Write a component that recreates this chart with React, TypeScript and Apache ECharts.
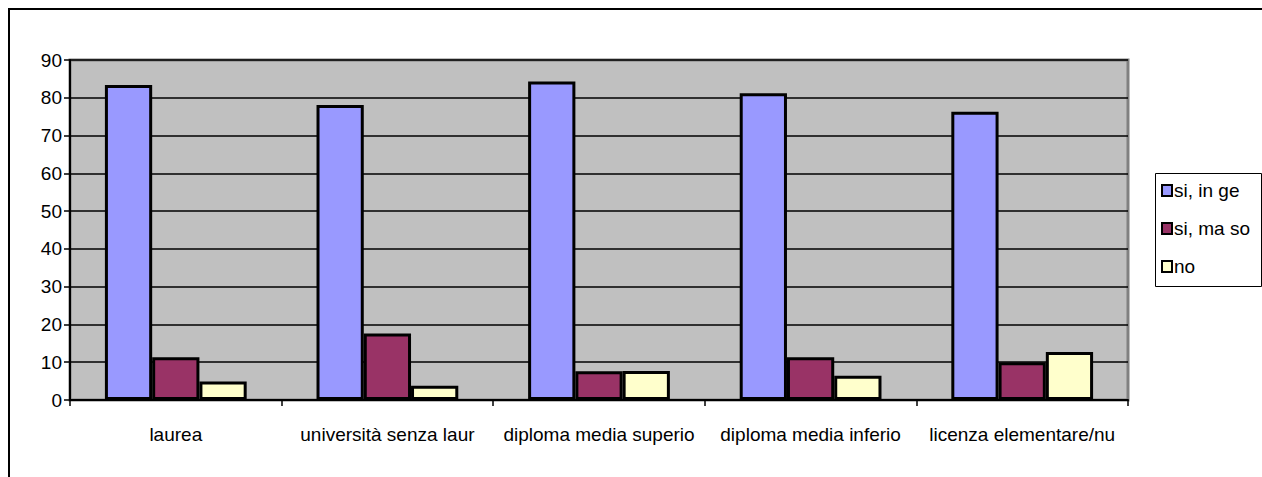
import React, { useEffect, useRef } from "react";
import * as echarts from "echarts";

const categories = [
  "laurea",
  "università senza laur",
  "diploma media superio",
  "diploma media inferio",
  "licenza elementare/nu",
];
const seriesNames = ["si, in ge", "si, ma so", "no"];
const siInGe = [83.4, 78.1, 84.3, 81.2, 76.3];
const siMaSo = [11.3, 17.6, 7.6, 11.3, 10.0];
const no = [4.9, 3.8, 7.7, 6.4, 12.7];
const colors = ["#9999FF", "#993366", "#FFFFCC"];

const FONT = "'Liberation Sans', Arial, sans-serif";

export default function App() {
  const ref = useRef<HTMLDivElement>(null);
  useEffect(() => {
    if (!ref.current) return;
    const chart = echarts.init(ref.current, undefined, { renderer: "svg" });
    const data = [siInGe, siMaSo, no];
    chart.setOption({
      animation: false,
      backgroundColor: "#ffffff",
      textStyle: { fontFamily: FONT, color: "#000" },
      graphic: [
        {
          type: "rect",
          shape: { x: 9, y: 9, width: 1300, height: 520 },
          style: { fill: "none", stroke: "#000", lineWidth: 2 },
          z: 0,
        },
        {
          type: "rect",
          shape: { x: 1155.5, y: 173.5, width: 106, height: 113 },
          style: { fill: "#fff", stroke: "#000", lineWidth: 1 },
          z: 1,
        },
      ],
      grid: {
        left: 70,
        top: 60,
        right: 134,
        bottom: 77,
        show: true,
        backgroundColor: "#C0C0C0",
        borderColor: "#808080",
        borderWidth: 3,
      },
      legend: {
        orient: "vertical",
        left: 1161,
        top: 181,
        padding: 0,
        itemGap: 19,
        itemWidth: 10,
        itemHeight: 11,
        icon: "rect",
        z: 5,
        itemStyle: { borderColor: "#000", borderWidth: 2 },
        textStyle: { fontFamily: FONT, fontSize: 19, color: "#000", padding: [0, 0, 0, -3] },
        data: seriesNames,
      },
      xAxis: {
        type: "category",
        data: categories,
        boundaryGap: true,
        axisLine: { show: true, lineStyle: { color: "#000", width: 2 } },
        axisTick: { show: true, length: 6, lineStyle: { color: "#000", width: 1.5 } },
        axisLabel: {
          fontFamily: FONT,
          fontSize: 19,
          color: "#000",
          margin: 25,
          interval: 0,
        },
        splitLine: { show: false },
      },
      yAxis: {
        type: "value",
        min: 0,
        max: 90,
        interval: 10,
        axisLine: { show: true, lineStyle: { color: "#000", width: 2 } },
        axisTick: { show: true, length: 6, lineStyle: { color: "#000", width: 1.5 } },
        axisLabel: { fontFamily: FONT, fontSize: 19, color: "#000", margin: 8 },
        splitLine: { show: true, lineStyle: { color: "#000", width: 1.5 } },
      },
      series: seriesNames.map((name, i) => ({
        name,
        type: "bar",
        data: data[i],
        barGap: "0%",
        barCategoryGap: "33%",
        itemStyle: { color: colors[i], borderColor: "#000", borderWidth: 3 },
      })),
    });
    return () => chart.dispose();
  }, []);
  return (
    <div
      ref={ref}
      style={{ position: "absolute", left: 0, top: 0, width: 1262, height: 477 }}
    />
  );
}
